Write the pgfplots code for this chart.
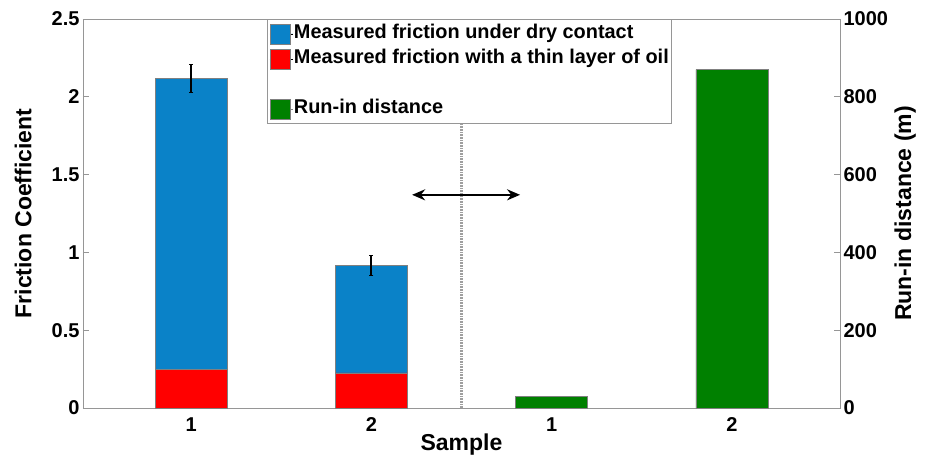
\documentclass[border=0pt]{standalone}
\usepackage{fontspec}
\setmainfont{Liberation Sans}
\usepackage{pgfplots}
\pgfplotsset{compat=1.18}
\usetikzlibrary{arrows.meta}
\definecolor{dryblue}{RGB}{10,130,200}
\definecolor{oilred}{RGB}{255,0,0}
\definecolor{rungreen}{RGB}{0,128,0}
\definecolor{axgray}{RGB}{150,150,150}
\begin{document}
\begin{tikzpicture}
\pgfplotsset{
  common/.style={
    scale only axis, width=757bp, height=389bp,
    xmin=0.4, xmax=4.6,
    /pgf/number format/assume math mode=true,
    /pgf/number format/1000 sep={},
    tick label style={font=\fontsize{20bp}{23bp}\selectfont\bfseries},
    label style={font=\fontsize{23bp}{27bp}\selectfont\bfseries},
    axis line style={axgray, line width=0.8bp},
    major tick length=6bp,
    tick style={axgray, line width=0.8bp},
    ybar, bar width=0.4, bar shift=0pt,
  }
}
\begin{axis}[common, name=main,
  ymin=0, ymax=2.5, ytick={0,0.5,1,1.5,2,2.5}, ytick pos=left,
  xtick={1,2,3,4}, xticklabels={1,2,1,2}, xtick pos=bottom,
  xtick style={draw=none},
  ylabel={Friction Coefficient}, xlabel={Sample},
  ylabel style={at={(rel axis cs:-0.079,0.5)}, anchor=center},
  xlabel style={at={(rel axis cs:0.5,-0.095)}, anchor=center},
]
\addplot[fill=dryblue, draw=gray, line width=0.5bp,
  error bars/.cd, y dir=both, y explicit,
  error bar style={black, line width=1.8bp},
  error mark options={rotate=90, black, mark size=2bp, line width=1bp}]
  coordinates {(1,2.12) +- (0,0.09) (2,0.915) +- (0,0.065)};
\addplot[fill=oilred, draw=gray, line width=0.5bp]
  coordinates {(1,0.25) (2,0.225)};
\addplot[sharp plot, gray!75, line width=3bp, dash pattern=on 0.8bp off 0.8bp]
  coordinates {(2.5,0) (2.5,2.5)};
\addplot[sharp plot, black, line width=2bp,
  {Stealth[length=13bp,width=11bp]}-{Stealth[length=13bp,width=11bp]}]
  coordinates {(2.226,1.37) (2.825,1.37)};
\end{axis}
\begin{axis}[common,
  ymin=0, ymax=1000, ytick={0,200,400,600,800,1000},
  hide x axis, axis y line*=right,
  ylabel={Run-in distance (m)},
  ylabel style={at={(rel axis cs:1.086,0.5)}, anchor=center, rotate=0},
  legend style={at={(rel axis cs:0.243,1)}, anchor=north west,
    draw=axgray, fill=white, line width=0.8bp,
    font=\fontsize{19.9bp}{24bp}\selectfont\bfseries,
    inner sep=2bp, row sep=0bp,
    nodes={inner sep=0.8bp, text height=16.5bp, text depth=7bp}},
  legend cell align=left,
  legend image code/.code={\path (0bp,0bp) -- (23bp,0bp);\draw[#1, draw=gray, line width=0.5bp] (0bp,-10bp) rectangle (20bp,10bp);},
]
\addlegendimage{fill=dryblue}
\addlegendentry{Measured friction under dry contact}
\addlegendimage{fill=oilred}
\addlegendentry{Measured friction with a thin layer of oil}
\addlegendimage{empty legend}
\addlegendentry{}
\addplot[fill=rungreen, draw=gray, line width=0.5bp]
  coordinates {(3,30) (4,870)};
\addlegendentry{Run-in distance}
\end{axis}
\pgfresetboundingbox
\path[use as bounding box] ([xshift=-83bp,yshift=-52bp]main.south west) rectangle ([xshift=90bp,yshift=19bp]main.north east);
\end{tikzpicture}
\end{document}
